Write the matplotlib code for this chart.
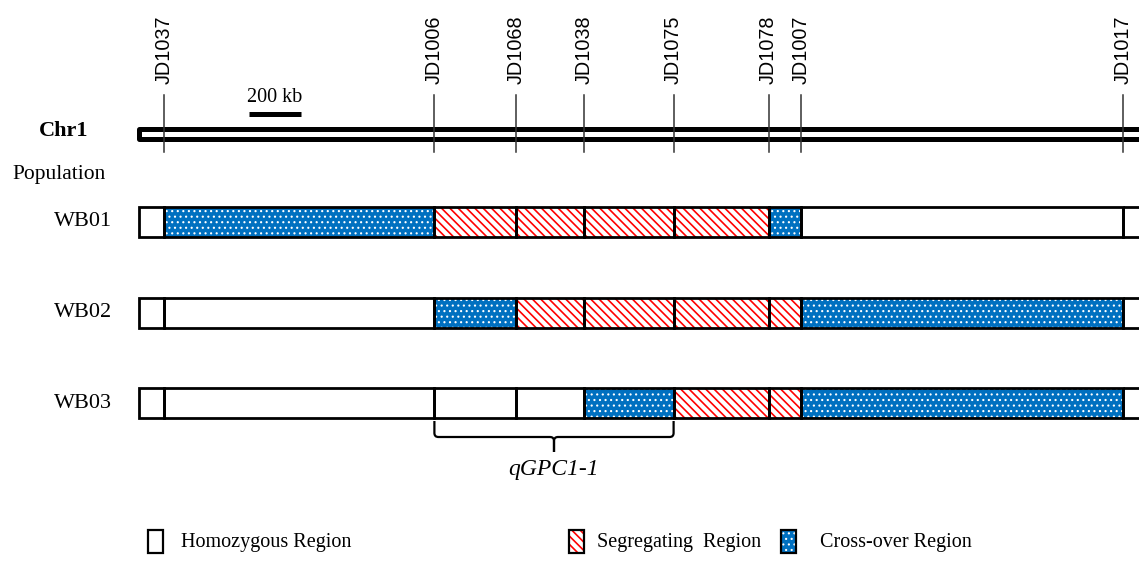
import matplotlib
matplotlib.use("Agg")
import matplotlib.pyplot as plt
from matplotlib.patches import Rectangle
from matplotlib.path import Path
from matplotlib.patches import PathPatch

# ---------------- data ----------------
marker_names = ["JD1037", "JD1006", "JD1068", "JD1038", "JD1075", "JD1078", "JD1007", "JD1017"]
marker_pos_kb = [0, 1040, 1355, 1615, 1960, 2325, 2450, 3690]
chrom_start_kb = -98
chrom_end_kb = 3900
populations = ["WB01", "WB02", "WB03"]
# genotype state of each interval: H homozygous, S segregating, C cross-over
wb01 = ["H", "C", "S", "S", "S", "S", "C", "H", "H"]
wb02 = ["H", "H", "C", "S", "S", "S", "S", "C", "H"]
wb03 = ["H", "H", "H", "H", "C", "S", "S", "C", "H"]
genotypes = [wb01, wb02, wb03]
qtl_name = "qGPC1-1"
qtl_left, qtl_right = "JD1006", "JD1075"
scale_kb = 200
legend_labels = ["Homozygous Region", "Segregating  Region", "Cross-over Region"]

# ---------------- layout ----------------
W, H = 1139, 568
PX_PER_KB = 0.26
X0_PX = 164
fig = plt.figure(figsize=(W / 100, H / 100), dpi=100)
ax = fig.add_axes([0, 0, 1, 1])
ax.set_xlim(-X0_PX / PX_PER_KB, (W - X0_PX) / PX_PER_KB)
ax.set_ylim(H, 0)
ax.axis("off")

def px2kb(p):
    return (p - X0_PX) / PX_PER_KB

SERIF = ["Liberation Serif", "DejaVu Serif"]
SANS = ["Liberation Sans", "DejaVu Sans"]
BLUE = "#0070C0"
RED = "#FF0000"

def seg_patch(x0, x1, ytop, h, state, lw=2.0, z=2):
    if state == "S":
        with plt.rc_context({"hatch.linewidth": 1.2}):
            p = Rectangle((x0, ytop), x1 - x0, h, facecolor="white", edgecolor=RED,
                          hatch="\\\\\\\\", lw=0, zorder=z)
            if hasattr(p, "set_hatch_linewidth"):
                p.set_hatch_linewidth(1.2)
        ax.add_patch(p)
    elif state == "C":
        with plt.rc_context({"hatch.linewidth": 0.8}):
            p = Rectangle((x0, ytop), x1 - x0, h, facecolor=BLUE, edgecolor="white",
                          hatch="...", lw=0, zorder=z)
            if hasattr(p, "set_hatch_linewidth"):
                p.set_hatch_linewidth(0.8)
        ax.add_patch(p)
    else:
        ax.add_patch(Rectangle((x0, ytop), x1 - x0, h, facecolor="white",
                               edgecolor="none", lw=0, zorder=z))
    ax.add_patch(Rectangle((x0, ytop), x1 - x0, h, facecolor="none",
                           edgecolor="black", lw=lw, zorder=z + 1))

# chromosome
ax.add_patch(Rectangle((chrom_start_kb, 128.5), chrom_end_kb - chrom_start_kb, 10,
                       facecolor="white", edgecolor="black", lw=3.6, zorder=2,
                       joinstyle="round"))
ax.text(px2kb(88), 131, "Chr1", family=SERIF, fontsize=16, fontweight="bold",
        ha="right", va="center")

# markers
for name, pos in zip(marker_names, marker_pos_kb):
    ax.plot([pos, pos], [95, 152], color="#333333", lw=1.1, zorder=4)
    ax.text(pos, 84, name, family=SANS, fontsize=14.3, rotation=90,
            ha="center", va="bottom")

# scale bar
sb0 = px2kb(249)
ax.plot([sb0, sb0 + scale_kb], [113.5, 113.5], color="black", lw=3.6,
        solid_capstyle="butt")
ax.text(sb0 + scale_kb / 2, 107, f"{scale_kb} kb", family=SERIF, fontsize=14.5,
        ha="center", va="bottom")

ax.text(px2kb(12), 174, "Population", family=SERIF, fontsize=15.5,
        ha="left", va="center")

# population rows
bounds = [chrom_start_kb] + marker_pos_kb + [chrom_end_kb]
row_top = [207, 297.5, 388]
row_h = 30
for name, states, yt in zip(populations, genotypes, row_top):
    for i, st in enumerate(states):
        seg_patch(bounds[i], bounds[i + 1], yt, row_h, st)
    ax.text(px2kb(112), yt + row_h / 2, name, family=SERIF, fontsize=16,
            ha="right", va="center")

# QTL brace
xl = marker_pos_kb[marker_names.index(qtl_left)]
xr = marker_pos_kb[marker_names.index(qtl_right)]
xm = (xl + xr) / 2
r = 4 / PX_PER_KB
ytop, ymid, ytip = 421, 437, 452
verts = [(xl, ytop), (xl, ymid - 4), (xl, ymid), (xl + r, ymid),
         (xm - r, ymid), (xm, ymid), (xm, ymid + 4), (xm, ytip)]
codes = [Path.MOVETO, Path.LINETO, Path.CURVE3, Path.CURVE3,
         Path.LINETO, Path.CURVE3, Path.CURVE3, Path.LINETO]
ax.add_patch(PathPatch(Path(verts, codes), facecolor="none", edgecolor="black", lw=1.6))
verts2 = [(xr, ytop), (xr, ymid - 4), (xr, ymid), (xr - r, ymid),
          (xm + r, ymid), (xm, ymid), (xm, ymid + 4), (xm, ytip)]
ax.add_patch(PathPatch(Path(verts2, codes), facecolor="none", edgecolor="black", lw=1.6))
ax.text(xm, 470, qtl_name, family=SERIF, fontsize=17, style="italic",
        ha="center", va="center")

# legend
leg_box_px = [148, 569, 781]
leg_text_px = [181, 597, 820]
for st, bx, tx, lab in zip(["H", "S", "C"], leg_box_px, leg_text_px, legend_labels):
    k0 = px2kb(bx)
    seg_patch(k0, k0 + 15 / PX_PER_KB, 530, 23, st, lw=1.6)
    ax.text(px2kb(tx), 542, lab, family=SERIF, fontsize=14.5, ha="left", va="center")

fig.savefig("out.png", dpi=100)
